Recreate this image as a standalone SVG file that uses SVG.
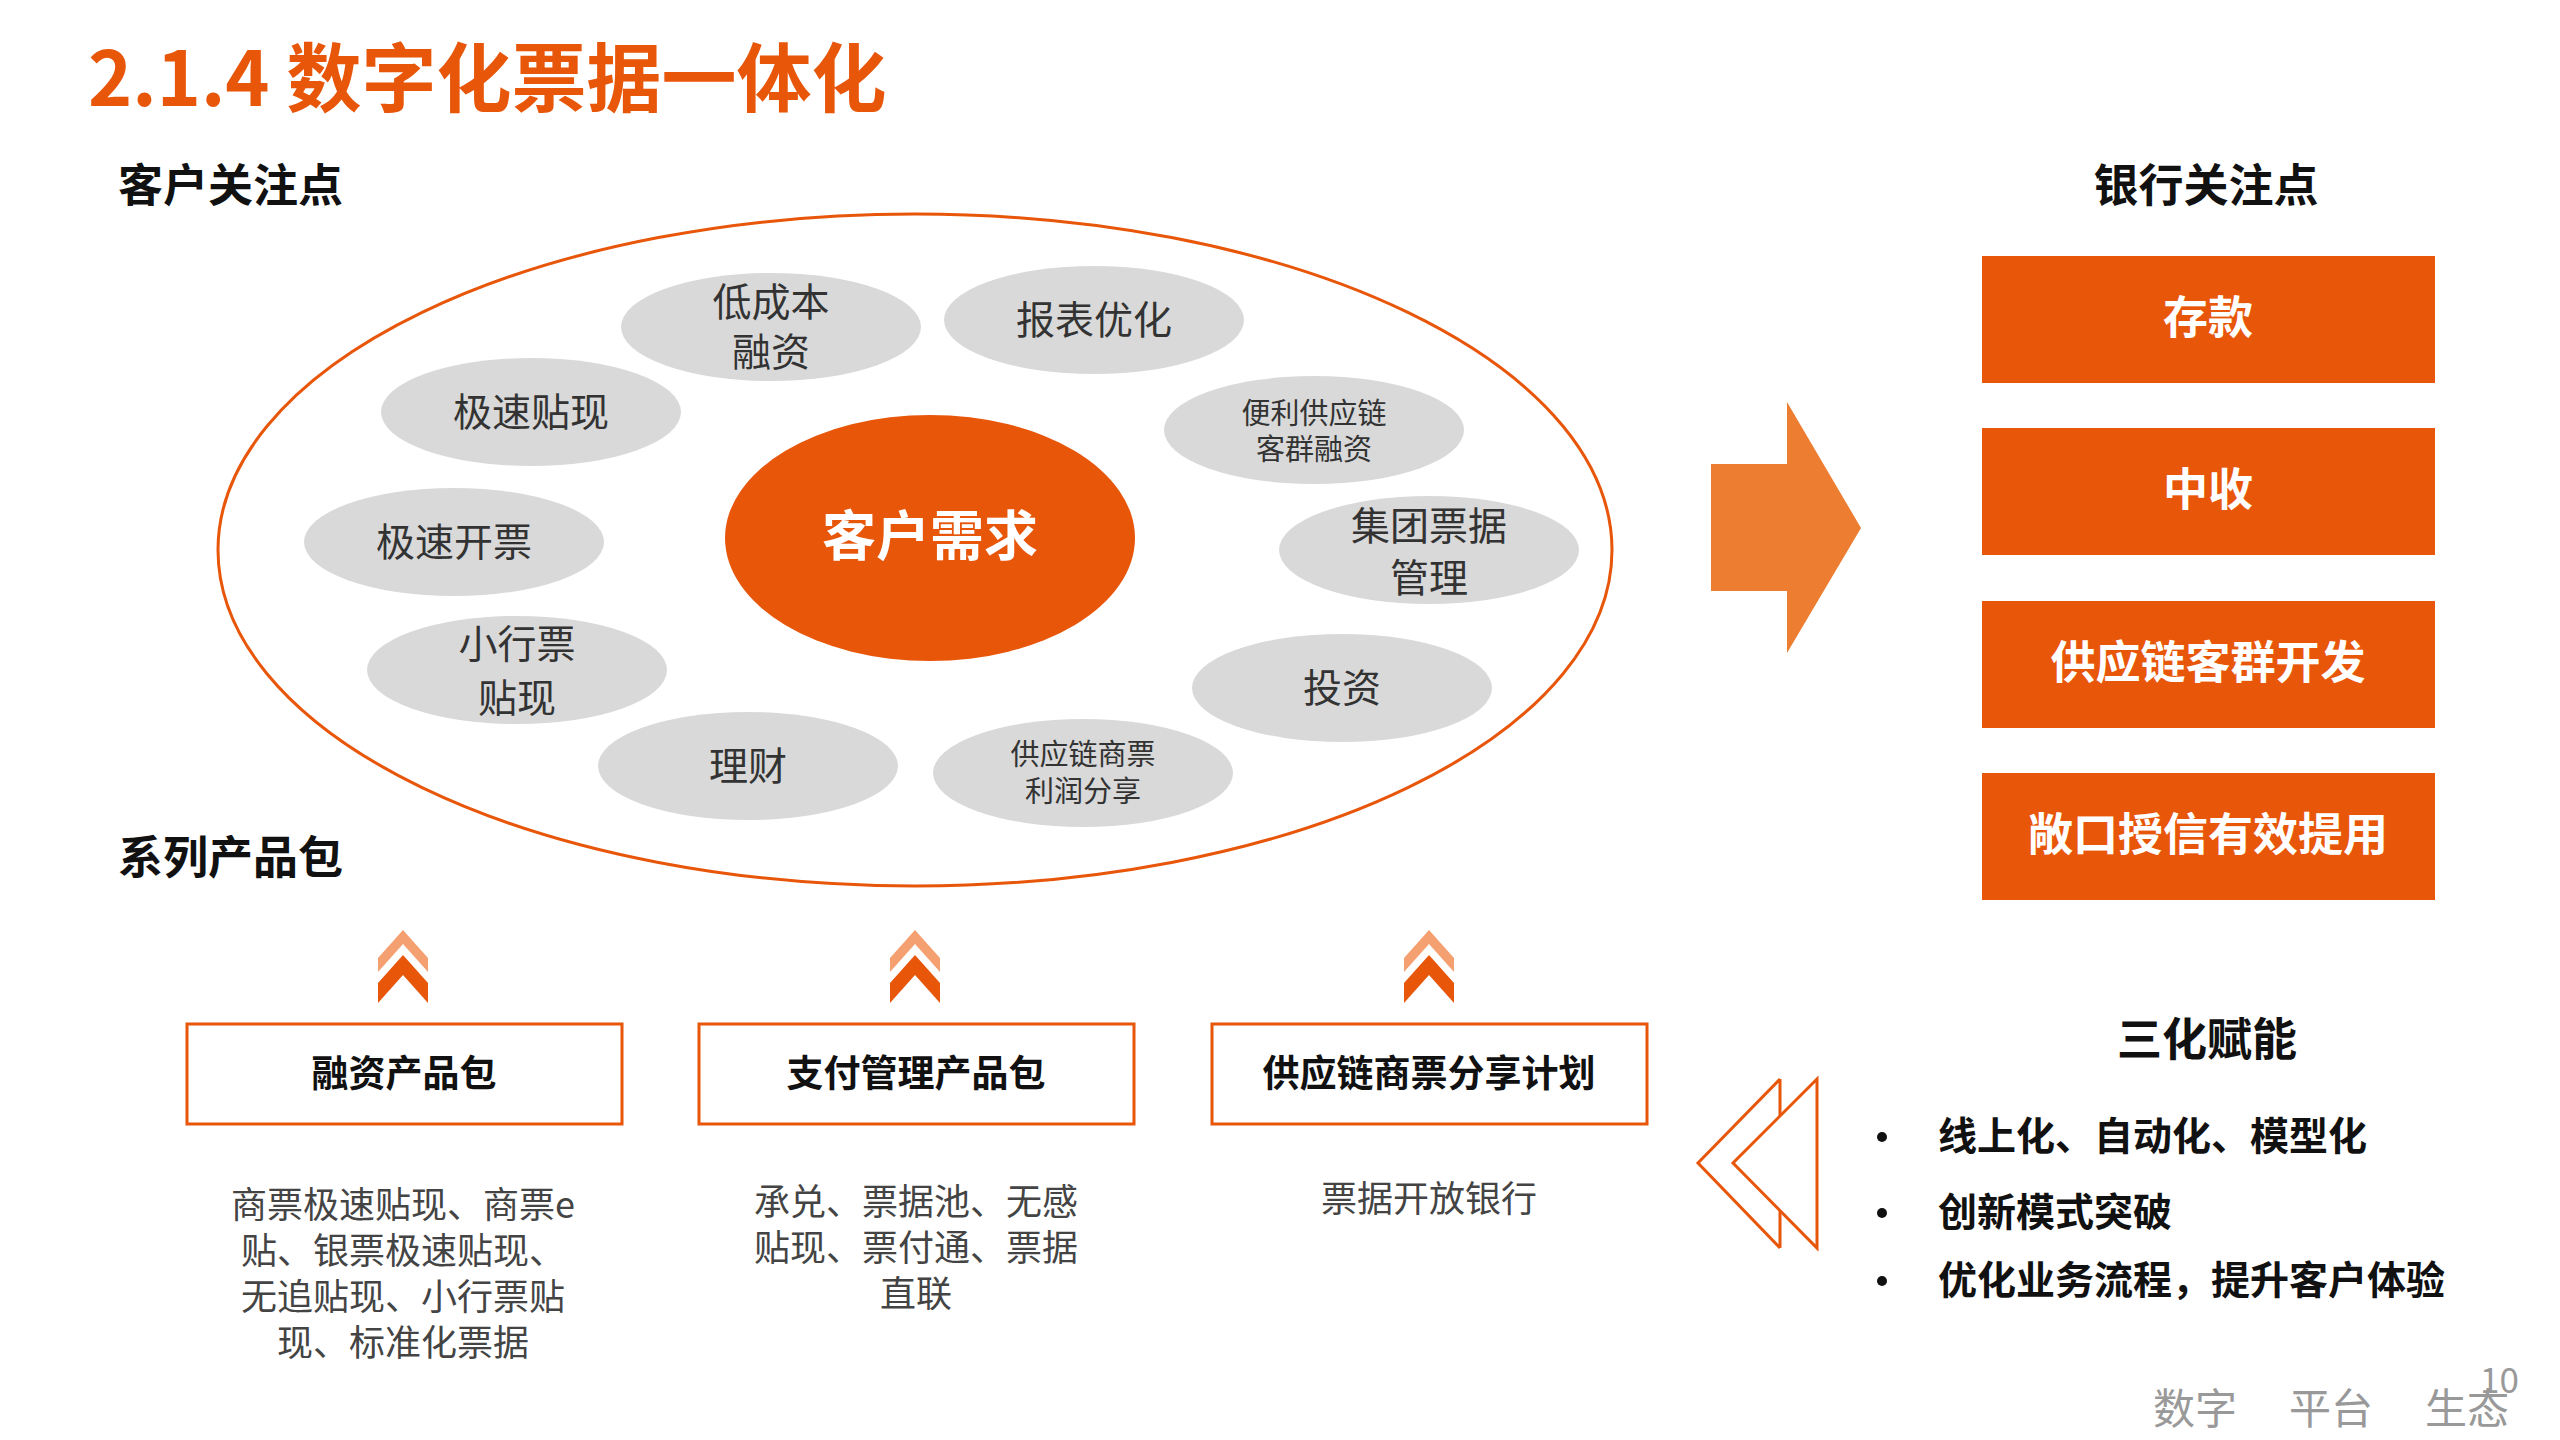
<svg xmlns="http://www.w3.org/2000/svg" width="2560" height="1440" viewBox="0 0 2560 1440">
<style>
text{font-family:"Noto Sans CJK SC","Liberation Sans",sans-serif}
.h{font-size:45px;font-weight:bold;fill:#111}
.g{fill:#d9d9d9}
.gt{font-size:39px;fill:#333;text-anchor:middle}
.gs{font-size:29px;fill:#333;text-anchor:middle}
.ob{fill:#e8560a}
.ot{font-size:45px;font-weight:bold;fill:#fff;text-anchor:middle}
.pb{fill:#fff;stroke:#e8560a;stroke-width:3}
.pt{font-size:37px;font-weight:bold;fill:#111;text-anchor:middle}
.dt{font-size:36px;fill:#444;text-anchor:middle}
.bt{font-size:39px;font-weight:bold;fill:#111}
</style>
<rect width="2560" height="1440" fill="#fff"/>
<text x="88" y="106" style="font-size:75px;font-weight:bold;fill:#e8560a">2.1.4 数字化票据一体化</text>
<text x="118" y="202" class="h">客户关注点</text>
<text x="2206" y="202" class="h" text-anchor="middle">银行关注点</text>
<text x="118" y="874" class="h">系列产品包</text>
<g id="outer"><ellipse cx="915" cy="550" rx="697" ry="336" fill="none" stroke="#e8560a" stroke-width="3"/></g>
<g id="center"><ellipse cx="930" cy="538" rx="205" ry="123" fill="#e8560a"/><text x="930" y="556" class="ot" style="font-size:54px">客户需求</text></g>
<g id="n1"><ellipse cx="771" cy="327" rx="150" ry="54" class="g"/><text x="771" y="316" class="gt">低成本</text><text x="771" y="366" class="gt">融资</text></g>
<g id="n2"><ellipse cx="1094" cy="320" rx="150" ry="54" class="g"/><text x="1094" y="334" class="gt">报表优化</text></g>
<g id="n3"><ellipse cx="531" cy="412" rx="150" ry="54" class="g"/><text x="531" y="426" class="gt">极速贴现</text></g>
<g id="n4"><ellipse cx="1314" cy="430" rx="150" ry="54" class="g"/><text x="1314" y="424" class="gs">便利供应链</text><text x="1314" y="460" class="gs">客群融资</text></g>
<g id="n5"><ellipse cx="454" cy="542" rx="150" ry="54" class="g"/><text x="454" y="556" class="gt">极速开票</text></g>
<g id="n6"><ellipse cx="1429" cy="550" rx="150" ry="54" class="g"/><text x="1429" y="540" class="gt">集团票据</text><text x="1429" y="592" class="gt">管理</text></g>
<g id="n7"><ellipse cx="517" cy="670" rx="150" ry="54" class="g"/><text x="517" y="658" class="gt">小行票</text><text x="517" y="712" class="gt">贴现</text></g>
<g id="n8"><ellipse cx="1342" cy="688" rx="150" ry="54" class="g"/><text x="1342" y="702" class="gt">投资</text></g>
<g id="n9"><ellipse cx="748" cy="766" rx="150" ry="54" class="g"/><text x="748" y="780" class="gt">理财</text></g>
<g id="n10"><ellipse cx="1083" cy="773" rx="150" ry="54" class="g"/><text x="1083" y="765" class="gs">供应链商票</text><text x="1083" y="802" class="gs">利润分享</text></g>
<g id="connectors">
<polygon points="1711,464 1787,464 1787,402 1861,528 1787,653 1787,591 1711,591" fill="#ed7d31"/>
<g fill="none" stroke="#e8560a" stroke-width="3">
<path d="M1780,1079 L1698,1163 L1780,1248 M1780,1079 V1116 M1780,1211 V1248"/>
<path d="M1817,1079 L1733,1163 L1817,1248 Z"/>
</g>
<g fill="#e8560a">
<path d="M378,983 L403,955 L428,983 L428,1003 L403,975 L378,1003 Z"/>
<path d="M890,983 L915,955 L940,983 L940,1003 L915,975 L890,1003 Z"/>
<path d="M1404,983 L1429,955 L1454,983 L1454,1003 L1429,975 L1404,1003 Z"/>
</g>
<g fill="#f4a070">
<path d="M378,958 L403,930 L428,958 L428,972 L403,944 L378,972 Z"/>
<path d="M890,958 L915,930 L940,958 L940,972 L915,944 L890,972 Z"/>
<path d="M1404,958 L1429,930 L1454,958 L1454,972 L1429,944 L1404,972 Z"/>
</g>
</g>
<g id="b1"><rect x="1982" y="256" width="453" height="127" class="ob"/><text x="2208" y="334" class="ot">存款</text></g>
<g id="b2"><rect x="1982" y="428" width="453" height="127" class="ob"/><text x="2208" y="506" class="ot">中收</text></g>
<g id="b3"><rect x="1982" y="601" width="453" height="127" class="ob"/><text x="2208" y="679" class="ot">供应链客群开发</text></g>
<g id="b4"><rect x="1982" y="773" width="453" height="127" class="ob"/><text x="2208" y="851" class="ot">敞口授信有效提用</text></g>
<g id="p1"><rect x="187" y="1024" width="435" height="100" class="pb"/><text x="404" y="1087" class="pt">融资产品包</text>
<text x="403" y="1218" class="dt">商票极速贴现、商票e</text><text x="403" y="1264" class="dt">贴、银票极速贴现、</text><text x="403" y="1310" class="dt">无追贴现、小行票贴</text><text x="403" y="1356" class="dt">现、标准化票据</text></g>
<g id="p2"><rect x="699" y="1024" width="435" height="100" class="pb"/><text x="916" y="1087" class="pt">支付管理产品包</text>
<text x="916" y="1215" class="dt">承兑、票据池、无感</text><text x="916" y="1261" class="dt">贴现、票付通、票据</text><text x="916" y="1307" class="dt">直联</text></g>
<g id="p3"><rect x="1212" y="1024" width="435" height="100" class="pb"/><text x="1429" y="1087" class="pt">供应链商票分享计划</text>
<text x="1429" y="1212" class="dt">票据开放银行</text></g>
<g id="sanhua"><text x="2207" y="1056" class="h" text-anchor="middle">三化赋能</text>
<circle cx="1882" cy="1137" r="5" fill="#111"/><text x="1938" y="1150" class="bt">线上化、自动化、模型化</text>
<circle cx="1882" cy="1213" r="5" fill="#111"/><text x="1938" y="1226" class="bt">创新模式突破</text>
<circle cx="1882" cy="1281" r="5" fill="#111"/><text x="1938" y="1294" class="bt">优化业务流程，提升客户体验</text></g>
<text x="2153" y="1424" style="font-size:42px;fill:#999">数字</text>
<text x="2289" y="1424" style="font-size:42px;fill:#999">平台</text>
<text x="2425" y="1424" style="font-size:42px;fill:#999">生态</text>
<text x="2480" y="1393" style="font-size:35px;fill:#999">10</text>
</svg>
